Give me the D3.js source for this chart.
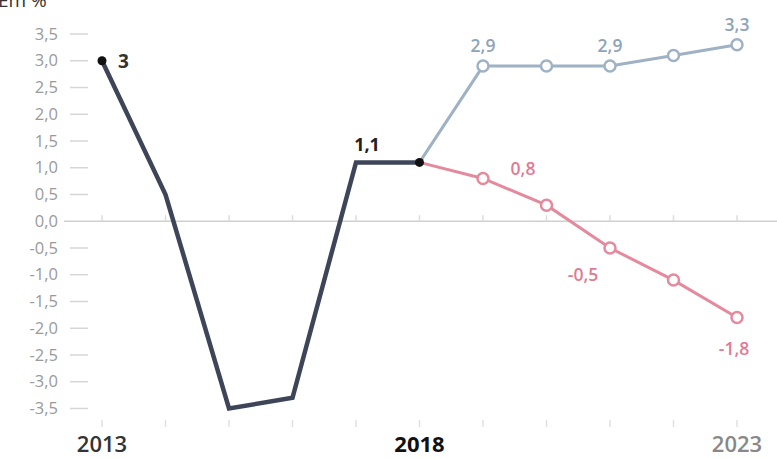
<!DOCTYPE html>
<html><head><meta charset="utf-8">
<script src="https://cdn.jsdelivr.net/npm/d3@7"></script>
<style>body{margin:0;background:#fff;}svg{display:block;}</style>
</head><body>
<svg id="c" width="777" height="459"></svg>
<script>
const years = [2013,2014,2015,2016,2017,2018,2019,2020,2021,2022,2023];
const histYears = [2013,2014,2015,2016,2017,2018];
const histValues = [3.0,0.5,-3.5,-3.3,1.1,1.1];
const scenYears = [2018,2019,2020,2021,2022,2023];
const optimistic = [1.1,2.9,2.9,2.9,3.1,3.3];
const pessimistic = [1.1,0.8,0.3,-0.5,-1.1,-1.8];
const yTicks = [3.5,3,2.5,2,1.5,1,0.5,0,-0.5,-1,-1.5,-2,-2.5,-3,-3.5];
const xLabels = [2013,2018,2023];
const histLabels = [{year:2013,value:3.0,text:"3"},{year:2017,value:1.1,text:"1,1"}];
const optLabels = [{year:2019,value:2.9,text:"2,9"},{year:2021,value:2.9,text:"2,9"},{year:2023,value:3.3,text:"3,3"}];
const pesLabels = [{year:2019,value:0.8,text:"0,8"},{year:2021,value:-0.5,text:"-0,5"},{year:2023,value:-1.8,text:"-1,8"}];

const svg = d3.select("#c");
const x = d3.scaleLinear().domain([2013,2023]).range([102,737]);
const y = d3.scaleLinear().domain([-3.5,3.5]).range([408.5,34]);
const font = "'Open Sans', 'Noto Sans', sans-serif";
const fmt = v => d3.format(".1f")(v).replace(".",",").replace("−","-");

svg.append("text").attr("x",-2).attr("y",7).attr("font-family",font).attr("font-size",19)
  .attr("fill","#333").text("Em %");

// y axis labels and tick marks
const yg = svg.append("g");
yTicks.forEach(t=>{
  yg.append("text").attr("x",58).attr("y",y(t)+5.5).attr("text-anchor","end")
    .attr("font-family",font).attr("font-size",16.5).attr("fill","#9a9a9a").text(fmt(t));
  if (t!==0) yg.append("line").attr("x1",70).attr("x2",88).attr("y1",y(t)).attr("y2",y(t))
    .attr("stroke","#d6d6d6").attr("stroke-width",1.5);
});
// zero line
svg.append("line").attr("x1",64).attr("x2",777).attr("y1",y(0)).attr("y2",y(0))
  .attr("stroke","#d0d0d0").attr("stroke-width",1.5);
// small x ticks
years.forEach(yr=>{
  svg.append("line").attr("x1",x(yr)).attr("x2",x(yr)).attr("y1",y(0)-6).attr("y2",y(0))
    .attr("stroke","#dcdcdc").attr("stroke-width",1.5);
  svg.append("line").attr("x1",x(yr)).attr("x2",x(yr)).attr("y1",420).attr("y2",427)
    .attr("stroke","#e0e0e0").attr("stroke-width",1.5);
});
// x labels
const xColors = {2013:"#333",2018:"#111",2023:"#888"};
xLabels.forEach(yr=>{
  svg.append("text").attr("x",x(yr)).attr("y",452).attr("text-anchor","middle")
    .attr("font-family",font).attr("font-size",22).attr("font-weight",yr===2018?700:600)
    .attr("fill",xColors[yr]).text(yr);
});

const line = d3.line().x(d=>x(d[0])).y(d=>y(d[1]));
const optColor = "#9fb2c4", pesColor = "#e58a9e";
svg.append("path").datum(scenYears.map((yr,i)=>[yr,optimistic[i]])).attr("d",line)
  .attr("fill","none").attr("stroke",optColor).attr("stroke-width",3);
svg.append("path").datum(scenYears.map((yr,i)=>[yr,pessimistic[i]])).attr("d",line)
  .attr("fill","none").attr("stroke",pesColor).attr("stroke-width",3);
svg.append("path").datum(histYears.map((yr,i)=>[yr,histValues[i]])).attr("d",line)
  .attr("fill","none").attr("stroke","#3e4558").attr("stroke-width",4.5).attr("stroke-linejoin","miter");

scenYears.slice(1).forEach((yr,i)=>{
  svg.append("circle").attr("cx",x(yr)).attr("cy",y(optimistic[i+1])).attr("r",5.5)
    .attr("fill","#fff").attr("stroke",optColor).attr("stroke-width",2.5);
  svg.append("circle").attr("cx",x(yr)).attr("cy",y(pessimistic[i+1])).attr("r",5.5)
    .attr("fill","#fff").attr("stroke",pesColor).attr("stroke-width",2.5);
});
[[2013,3.0],[2018,1.1]].forEach(d=>{
  svg.append("circle").attr("cx",x(d[0])).attr("cy",y(d[1])).attr("r",4.5).attr("fill","#111");
});

// labels
svg.append("text").attr("x",x(2013)+16).attr("y",y(3.0)+7).attr("font-family",font)
  .attr("font-size",19).attr("font-weight",700).attr("fill","#333").text(histLabels[0].text);
svg.append("text").attr("x",x(2017)+11).attr("y",y(1.1)-11).attr("text-anchor","middle").attr("font-family",font)
  .attr("font-size",18).attr("font-weight",700).attr("fill","#222").text(histLabels[1].text);
optLabels.forEach(l=>{
  svg.append("text").attr("x",x(l.year)).attr("y",y(l.value)-14).attr("text-anchor","middle")
    .attr("font-family",font).attr("font-size",17.5).attr("font-weight",600).attr("fill","#8ea4b9").text(l.text);
});
const pesOff = {2019:[40,-3],2021:[-27,33],2023:[-3,37]};
pesLabels.forEach(l=>{
  svg.append("text").attr("x",x(l.year)+pesOff[l.year][0]).attr("y",y(l.value)+pesOff[l.year][1])
    .attr("text-anchor","middle").attr("font-family",font).attr("font-size",17.5).attr("font-weight",600)
    .attr("fill","#e07b92").text(l.text);
});
</script>
</body></html>
